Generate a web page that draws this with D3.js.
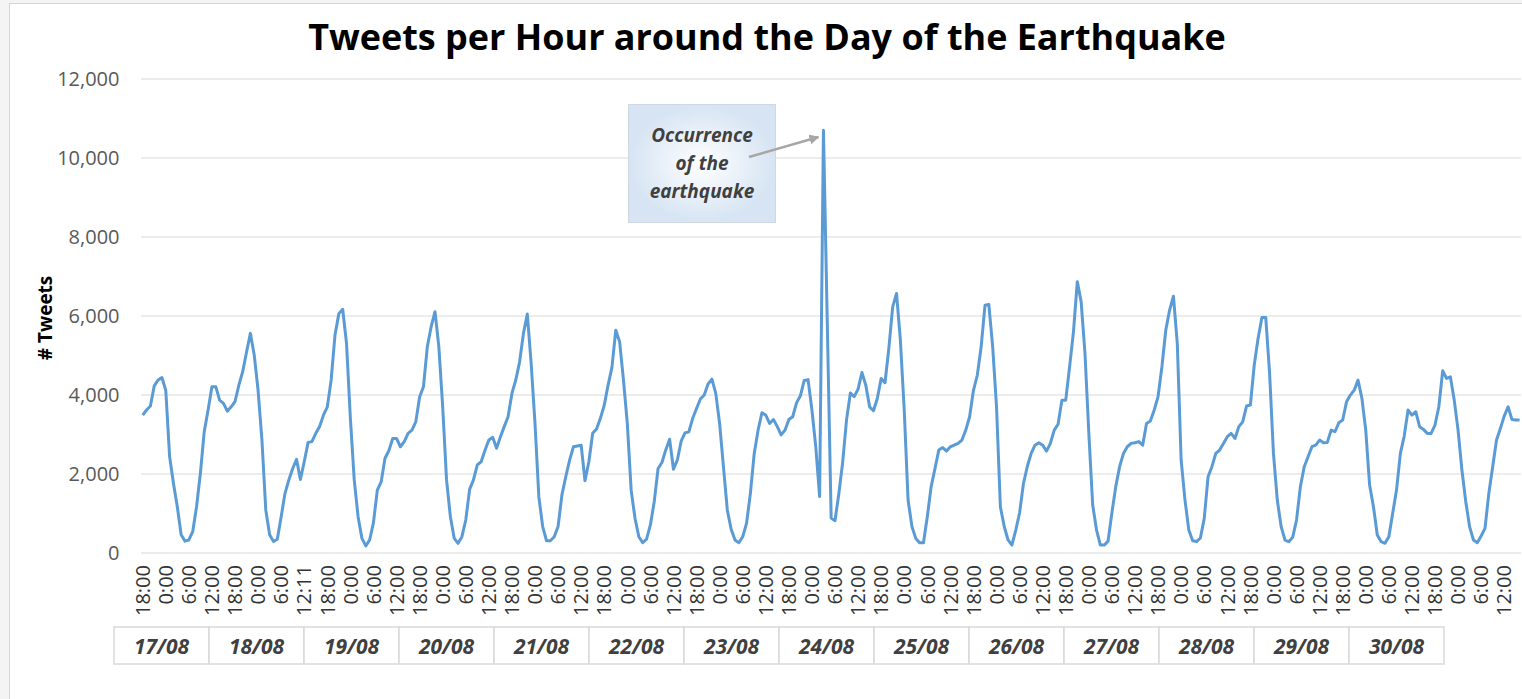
<!DOCTYPE html>
<html>
<head>
<meta charset="utf-8">
<script src="https://cdn.jsdelivr.net/npm/d3@7/dist/d3.min.js"></script>
<style>
body { margin: 0; background: #fff; }
text { font-family: "Open Sans", sans-serif; }
</style>
</head>
<body>
<div id="chart"></div>
<script>
// tweets per hour, one array per calendar day (first day starts at 16/08 18:00)
var aug16 = [3490, 3620, 3720, 4230, 4380, 4440];
var aug17 = [4120, 2440, 1760, 1170, 460, 300, 330, 540, 1170, 2020, 3070, 3620, 4210, 4210, 3870, 3790, 3590, 3700, 3830, 4250, 4590, 5090, 5560, 5010];
var aug18 = [4120, 2860, 1090, 460, 290, 350, 920, 1510, 1850, 2140, 2370, 1860, 2310, 2800, 2820, 3030, 3200, 3490, 3700, 4380, 5520, 6060, 6170, 5300];
var aug19 = [3400, 1850, 920, 370, 180, 330, 770, 1590, 1800, 2400, 2590, 2900, 2900, 2690, 2820, 3030, 3110, 3320, 3950, 4210, 5220, 5730, 6110, 5220];
var aug20 = [3700, 1850, 920, 370, 245, 414, 835, 1610, 1850, 2230, 2310, 2600, 2860, 2930, 2650, 2940, 3200, 3450, 4040, 4380, 4840, 5560, 6050, 4800];
var aug21 = [3280, 1420, 670, 310, 310, 410, 670, 1470, 1930, 2350, 2690, 2710, 2730, 1830, 2310, 3030, 3140, 3410, 3740, 4250, 4700, 5640, 5350, 4380];
var aug22 = [3280, 1590, 880, 410, 260, 350, 710, 1300, 2140, 2290, 2610, 2880, 2120, 2350, 2830, 3040, 3070, 3410, 3660, 3900, 4000, 4280, 4400, 4040];
var aug23 = [3280, 2180, 1090, 600, 330, 260, 410, 750, 1510, 2520, 3110, 3550, 3490, 3280, 3380, 3200, 2990, 3110, 3380, 3450, 3800, 3980, 4370, 4390];
var aug24 = [3620, 2690, 1430, 10700, 5800, 885, 817, 1500, 2300, 3370, 4050, 3960, 4150, 4570, 4250, 3700, 3600, 3910, 4420, 4310, 5180, 6230, 6570, 5390];
var aug25 = [3620, 1340, 670, 370, 260, 260, 920, 1680, 2140, 2610, 2670, 2580, 2690, 2730, 2775, 2860, 3110, 3450, 4120, 4500, 5220, 6270, 6290, 5220];
var aug26 = [3700, 1170, 670, 330, 200, 580, 1020, 1760, 2190, 2520, 2730, 2790, 2730, 2580, 2775, 3110, 3260, 3870, 3870, 4720, 5600, 6870, 6360, 5050];
var aug27 = [3030, 1220, 580, 200, 200, 300, 1020, 1680, 2185, 2520, 2690, 2775, 2790, 2820, 2730, 3280, 3340, 3620, 3960, 4715, 5640, 6150, 6500, 5300];
var aug28 = [2350, 1340, 580, 310, 290, 380, 870, 1930, 2185, 2520, 2606, 2775, 2944, 3028, 2900, 3200, 3320, 3720, 3745, 4757, 5430, 5960, 5960, 4546];
var aug29 = [2522, 1341, 667, 329, 287, 397, 835, 1679, 2185, 2437, 2690, 2733, 2859, 2792, 2800, 3112, 3070, 3298, 3365, 3829, 3998, 4124, 4377, 3913];
var aug30 = [3112, 1721, 1172, 456, 287, 245, 414, 1004, 1594, 2522, 2960, 3618, 3492, 3576, 3197, 3129, 3028, 3028, 3239, 3702, 4613, 4419, 4461, 3871];
var aug31 = [3112, 2100, 1300, 667, 329, 262, 430, 624, 1510, 2185, 2859, 3154, 3466, 3702, 3382, 3365, 3365];

// one label every 6 hours
var tickLabels = [
    "18:00", "0:00", "6:00", "12:00",
    "18:00", "0:00", "6:00", "12:11",
    "18:00", "0:00", "6:00", "12:00", "18:00", "0:00", "6:00", "12:00",
    "18:00", "0:00", "6:00", "12:00", "18:00", "0:00", "6:00", "12:00",
    "18:00", "0:00", "6:00", "12:00", "18:00", "0:00", "6:00", "12:00",
    "18:00", "0:00", "6:00", "12:00", "18:00", "0:00", "6:00", "12:00",
    "18:00", "0:00", "6:00", "12:00", "18:00", "0:00", "6:00", "12:00",
    "18:00", "0:00", "6:00", "12:00", "18:00", "0:00", "6:00", "12:00",
    "18:00", "0:00", "6:00", "12:00"
];
var dateLabels = ["17/08", "18/08", "19/08", "20/08", "21/08", "22/08", "23/08",
    "24/08", "25/08", "26/08", "27/08", "28/08", "29/08", "30/08"];
var yTicks = [0, 2000, 4000, 6000, 8000, 10000, 12000];
var noteLines = ["Occurrence", "of the", "earthquake"];
var quakeHour = 177;

var tweets = [].concat(aug16, aug17, aug18, aug19, aug20, aug21, aug22, aug23,
    aug24, aug25, aug26, aug27, aug28, aug29, aug30, aug31);

function drawTweetsChart(placement, w, h) {
    var plot = {left: 141, right: 1521, top: 79, bottom: 553};

    var svg = d3.select(placement).append("svg")
        .attr("width", w).attr("height", h)
        .attr("viewBox", [0, 0, w, h]);

    svg.append("rect").attr("width", w).attr("height", h).style("fill", "#f4f4f4");
    svg.append("rect")
        .attr("x", 9.5).attr("y", 3.5)
        .attr("width", w + 20).attr("height", h + 20)
        .style("fill", "white").style("stroke", "#d4d4d4");

    var x = d3.scaleLinear()
        .domain([0, tweets.length - 1])
        .range([142.7, 1519.6]);

    var y = d3.scaleLinear()
        .domain([0, 12000])
        .range([plot.bottom, plot.top]);

    // gridlines + y labels
    svg.append("g").attr("class", "grid")
        .selectAll("line")
        .data(yTicks)
        .enter().append("line")
        .attr("x1", plot.left).attr("x2", plot.right)
        .attr("y1", d => y(d)).attr("y2", d => y(d))
        .style("stroke", "#d9d9d9").style("stroke-width", 1);

    svg.append("g").attr("class", "y-axis")
        .selectAll("text")
        .data(yTicks)
        .enter().append("text")
        .attr("x", 119.5)
        .attr("y", d => y(d))
        .attr("dy", "0.36em")
        .style("text-anchor", "end")
        .style("font-size", "20px")
        .style("fill", "#595959")
        .text(d3.format(","));

    svg.append("text")
        .attr("transform", "translate(52,318) rotate(-90)")
        .style("text-anchor", "middle")
        .style("font-size", "19px")
        .style("font-weight", "bold")
        .style("fill", "black")
        .text("# Tweets");

    // x labels every 6 hours
    svg.append("g").attr("class", "x-axis")
        .selectAll("text")
        .data(tickLabels)
        .enter().append("text")
        .attr("transform", (d, i) => "translate(" + x(i * 6) + ",565) rotate(-90)")
        .attr("dy", "0.36em")
        .style("text-anchor", "end")
        .style("font-size", "20px")
        .style("fill", "#333")
        .text(d => d);

    // date boxes under the axis
    var band = d3.scaleBand().domain(dateLabels).range([114, 1444]);
    var dates = svg.append("g").attr("class", "dates")
        .selectAll("g")
        .data(dateLabels)
        .enter().append("g")
        .attr("transform", d => "translate(" + band(d) + ",627)");
    dates.append("rect")
        .attr("width", band.bandwidth()).attr("height", 37)
        .style("fill", "white").style("stroke", "#d9d9d9").style("stroke-width", 1.5);
    dates.append("text")
        .attr("x", band.bandwidth() / 2).attr("y", 19)
        .attr("dy", "0.36em")
        .style("text-anchor", "middle")
        .style("font-size", "21px")
        .style("font-weight", "bold")
        .style("font-style", "italic")
        .style("fill", "#404040")
        .text(d => d);

    // the series
    var line = d3.line()
        .x((d, i) => x(i))
        .y(d => y(d));

    svg.append("path")
        .datum(tweets)
        .attr("class", "line")
        .attr("d", line)
        .style("fill", "none")
        .style("stroke", "#5b9bd5")
        .style("stroke-width", 3)
        .style("stroke-linejoin", "round");

    // callout
    var defs = svg.append("defs");
    var grad = defs.append("radialGradient").attr("id", "noteFill");
    grad.append("stop").attr("offset", "0%").attr("stop-color", "#ffffff");
    grad.append("stop").attr("offset", "100%").attr("stop-color", "#d6e4f3");
    defs.append("marker")
        .attr("id", "arrowHead")
        .attr("viewBox", "0 0 10 10")
        .attr("refX", 9).attr("refY", 5)
        .attr("markerWidth", 4).attr("markerHeight", 4)
        .attr("orient", "auto")
        .append("path").attr("d", "M0,0L10,5L0,10z").style("fill", "#a6a6a6");

    svg.append("rect")
        .attr("x", 628.5).attr("y", 104.5)
        .attr("width", 147).attr("height", 118)
        .style("fill", "url(#noteFill)")
        .style("stroke", "#cfd8e3");

    svg.append("g").selectAll("text")
        .data(noteLines)
        .enter().append("text")
        .attr("x", 702)
        .attr("y", (d, i) => 135 + i * 28)
        .attr("dy", "0.36em")
        .style("text-anchor", "middle")
        .style("font-size", "19px")
        .style("font-weight", "bold")
        .style("font-style", "italic")
        .style("fill", "#404040")
        .text(d => d);

    svg.append("line")
        .attr("x1", 749).attr("y1", 157)
        .attr("x2", x(quakeHour) - 5).attr("y2", 137)
        .style("stroke", "#a6a6a6")
        .style("stroke-width", 2.5)
        .attr("marker-end", "url(#arrowHead)");

    // title, scaled to the width of the original
    var title = svg.append("text")
        .attr("x", 767).attr("y", 50)
        .style("text-anchor", "middle")
        .style("font-size", "36px")
        .style("font-weight", "bold")
        .style("fill", "black")
        .text("Tweets per Hour around the Day of the Earthquake");
    var tw = title.node().getComputedTextLength();
    title.style("font-size", (36 * 918 / tw) + "px");
}

drawTweetsChart("#chart", 1522, 699);
</script>
</body>
</html>
